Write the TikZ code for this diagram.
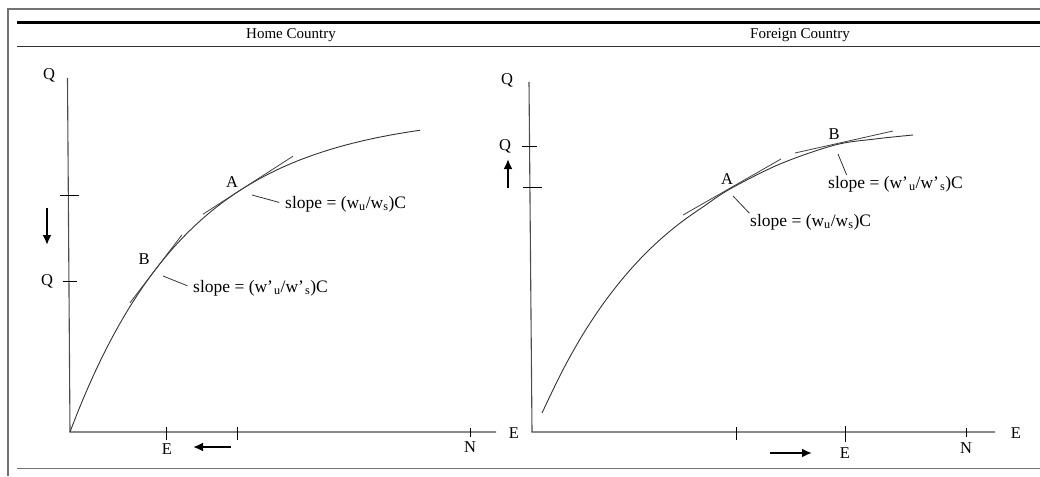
\documentclass[tikz,border=0pt]{standalone}
\usepackage{fontspec}
\setmainfont{Liberation Serif}
\usetikzlibrary{arrows.meta,positioning}
\definecolor{framegray}{rgb}{0.45,0.45,0.45}
\definecolor{axisgray}{rgb}{0.3,0.3,0.3}
\tikzset{
  lbl/.style={
    inner sep=0pt,
    font=\fontsize{16.5}{19}\selectfont
  },
  slopelbl/.style={
    inner sep=0pt,
    anchor=west,
    font=\fontsize{17.5}{20}\selectfont
  },
  headlbl/.style={
    inner sep=0pt,
    font=\fontsize{15}{18}\selectfont
  },
  axis/.style={
    draw=axisgray,
    line width=1.1pt
  },
  tickmark/.style={
    draw=black,
    line width=0.9pt
  },
  curve/.style={
    draw=black!80,
    line width=0.9pt
  },
  tangent/.style={
    draw=black!75,
    line width=0.8pt
  },
  leader/.style={
    draw=black!80,
    line width=0.8pt,
    shorten >=6pt
  },
  movearrow/.style={
    -{Latex[length=10pt,width=9pt]},
    line width=2pt
  },
  rulethin/.style={
    draw=black!80,
    line width=1.1pt
  },
  rulethick/.style={
    draw=black,
    line width=2.6pt
  },
  framerule/.style={
    draw=framegray,
    line width=1.3pt
  }
}

\begin{document}
\begin{tikzpicture}[x=1pt,y=-1pt]
\useasboundingbox (0,0) rectangle (1040,476);
% frame and headings
\draw[framerule] (8,476) -- (8,9) -- (1040,9);
\draw[rulethick] (17,22.5) -- (1040,22.5);
\draw[rulethin] (17,46.5) -- (1040,46.5);
\draw[framerule] (17,468.5) -- (1040,468.5);
\node[headlbl] (home) at (291,35) {Home Country};
\node[headlbl] (foreign) at (800,35) {Foreign Country};

% home country
\coordinate (ho) at (70,432);
\coordinate (hy) at (67.5,78);
\coordinate (hx) at (496,432);
\draw[axis] (hy) -- (ho) -- (hx);
\draw[tickmark] (60,195) -- (79,195);
\draw[tickmark] (63,281) -- (77,281);
\draw[tickmark] (166,427) -- (166,440);
\draw[tickmark] (237,427) -- (237,440);
\draw[tickmark] (470,428) -- (470,437);
\node[lbl] (hQtop) at (49,75) {Q};
\node[lbl] (hQ) at (47,281) {Q};
\node[lbl] (hE) at (167,449) {E};
\node[lbl] (hN) at (470,447) {N};
\coordinate (hdown1) at (47,208);
\coordinate (hdown2) at (47,245);
\draw[movearrow] (hdown1) -- (hdown2);
\coordinate (hleft1) at (231,447);
\coordinate (hleft2) at (193,447);
\draw[movearrow] (hleft1) -- (hleft2);
\draw[curve] plot[domain=70:420,samples=80,smooth] (\x,{432-319*(1-exp(-(\x-70)/120))});
\draw[tangent] (203,214.2) -- (293,156.2);
\draw[tangent] (130,302.8) -- (182,234.8);
\node[lbl] (hA) at (232,182) {A};
\node[lbl] (hB) at (144,259) {B};
\node[slopelbl] (hAslope) at (285,204) {slope = (w\textsubscript{u}/w\textsubscript{s})C};
\node[slopelbl] (hBslope) at (193,288) {slope = (w’\kern1pt\textsubscript{u}/w’\kern1pt\textsubscript{s})C};
\coordinate (hAlead) at (252,195);
\coordinate (hBlead) at (163,276);
\draw[leader] (hAlead) -- (hAslope.west);
\draw[leader] (hBlead) -- (hBslope.west);

% foreign country
\coordinate (fo) at (532,432);
\coordinate (fy) at (529,82);
\coordinate (fx) at (995,432);
\draw[axis] (fy) -- (fo) -- (fx);
\draw[tickmark] (522,146) -- (537,146);
\draw[tickmark] (523,187) -- (542,187);
\draw[tickmark] (736,427) -- (736,440);
\draw[tickmark] (845,426) -- (845,442);
\draw[tickmark] (966,428) -- (966,437);
\node[lbl] (fQtop) at (507,80) {Q};
\node[lbl] (fQ) at (505,146) {Q};
\node[lbl] (fEy) at (514,433) {E};
\node[lbl] (fE) at (845,453) {E};
\node[lbl] (fN) at (966,448) {N};
\node[lbl] (fEx) at (1016,433) {E};
\coordinate (fup1) at (508,188);
\coordinate (fup2) at (508,159);
\draw[movearrow] (fup1) -- (fup2);
\coordinate (fright1) at (770,453);
\coordinate (fright2) at (812,453);
\draw[movearrow] (fright1) -- (fright2);
\draw[curve] plot[smooth,tension=0.55] coordinates {(542,413) (562,371.6) (582,335.9) (602,305.4) (622,279.4) (642,257) (662,237.9) (682,221.6) (702,207.6) (730,189) (780,164) (835,145) (875,139) (913,135)};
\draw[tangent] (683,215) -- (781,159);
\draw[tangent] (795,153) -- (893,131);
\node[lbl] (fA) at (727,179) {A};
\node[lbl] (fB) at (834,134) {B};
\node[slopelbl] (fAslope) at (750,222) {slope = (w\textsubscript{u}/w\textsubscript{s})C};
\node[slopelbl] (fBslope) at (828,184) {slope = (w’\kern1pt\textsubscript{u}/w’\kern1pt\textsubscript{s})C};
\coordinate (fAlead) at (733,196);
\coordinate (fBlead) at (838,154);
\draw[leader,shorten >=1pt] (fAlead) -- (fAslope.north west);
\draw[leader,shorten >=1pt] (fBlead) -- ([xshift=19pt]fBslope.north west);
\end{tikzpicture}
\end{document}
